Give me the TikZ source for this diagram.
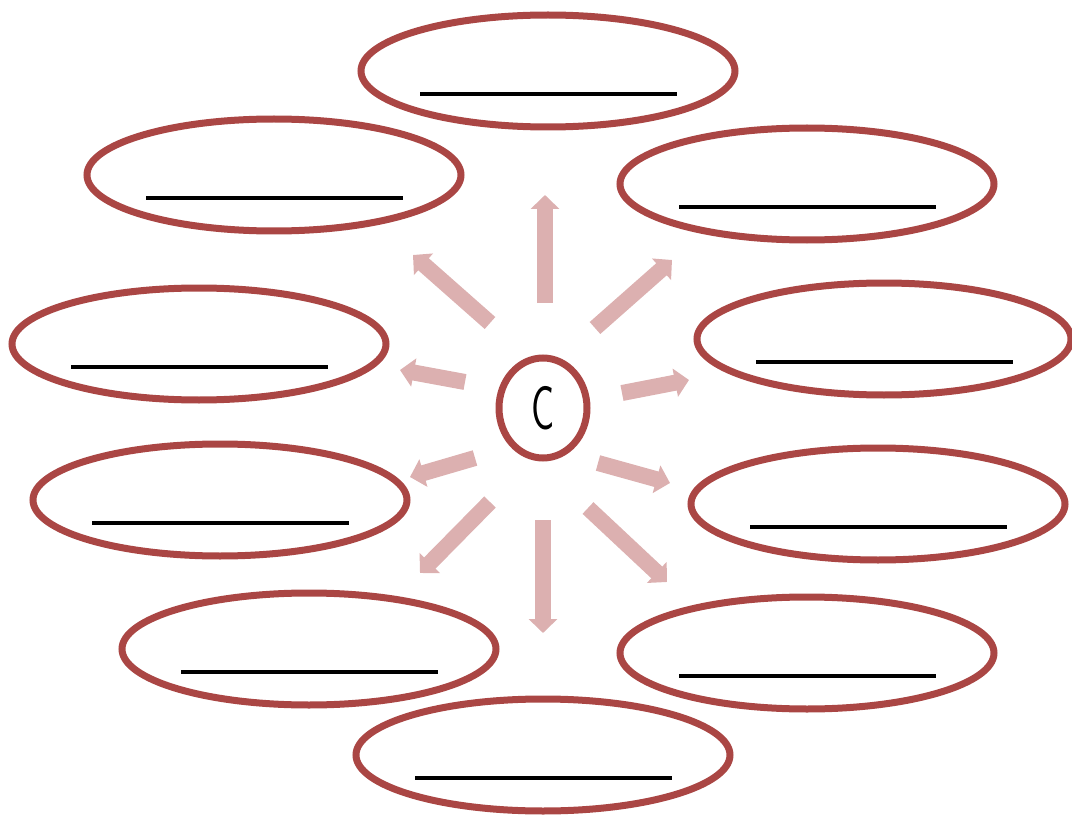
\documentclass[tikz,border=0pt]{standalone}
\usetikzlibrary{shapes.geometric,arrows.meta}
\definecolor{rim}{RGB}{170,70,68}
\definecolor{ray}{RGB}{220,176,176}
\begin{document}
\begin{tikzpicture}[x=1pt,y=-1pt,
  bubble/.style={draw=rim,line width=7pt,ellipse,minimum width=374pt,minimum height=112pt,inner sep=0pt},
  hub/.style={draw=rim,line width=7pt,ellipse,minimum width=88pt,minimum height=100pt,inner sep=0pt},
  blank/.style={line width=3.2pt,black},
  rayarrow/.style={draw=ray,line width=16pt,-{Triangle[width=28pt,length=14pt]}}]
\useasboundingbox (0,0) rectangle (1072,824);
\node[hub] (c) at (543,408) {\sffamily\scalebox{0.62}[1]{\fontsize{62}{62}\selectfont C}};
\foreach \n/\x/\y in {t/548/71, ul/274/175, ur/807/184, l2/199/344, r2/884/339,
  l3/220/500, r3/878/504, l4/309/649, r4/807/653, b/543/755}{
  \node[bubble] (\n) at (\x,\y) {};
  \draw[blank] ([xshift=-128pt,yshift=-23pt]\n.center) -- ([xshift=129pt,yshift=-23pt]\n.center);
}
\foreach \n/\ax/\ay/\bx/\by in {
  up/545/303/545/195, nw/490/323/413/255, ne/595/328/672/260,
  w/465/382/400/370, e/622/393/689/380, sw/475/458/410/477,
  se/598/463/670/483, ssw/490/502/420/573, sse/588/508/667/582,
  down/543/520/543/633}{
  \coordinate (\n a) at (\ax,\ay);
  \coordinate (\n b) at (\bx,\by);
  \draw[rayarrow] (\n a) -- (\n b);
}
\end{tikzpicture}
\end{document}
